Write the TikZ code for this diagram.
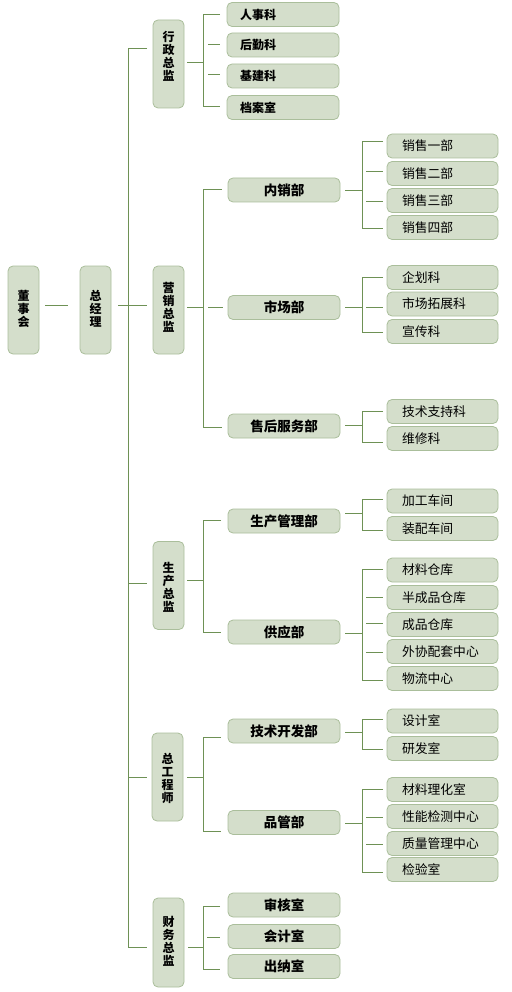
\documentclass[tikz,border=0pt]{standalone}
\usepackage{fontspec}
\setmainfont{Noto Sans CJK SC}
\definecolor{boxfill}{RGB}{212,222,203}
\definecolor{boxline}{RGB}{170,190,155}
\definecolor{conn}{RGB}{110,145,85}
\tikzset{
  box/.style={draw=boxline, fill=boxfill, rounded corners=5pt, line width=0.8pt, inner sep=0pt},
  vbox/.style={box, minimum width=31pt, minimum height=88pt},
  vtext/.style={inner sep=0pt, align=center, font=\bfseries\fontsize{12}{13}\selectfont},
  midbox/.style={box, minimum width=112pt, minimum height=24pt, font=\bfseries\fontsize{13.5}{14}\selectfont},
  xzleaf/.style={box, minimum height=24pt, text width=86pt, inner xsep=13pt, align=left, font=\bfseries\fontsize{12}{13}\selectfont},
  leaf/.style={box, minimum height=24pt, text width=81pt, inner xsep=15pt, align=left, font=\fontsize{12.8}{13}\selectfont},
  ln/.style={draw=conn, line width=1pt}
}
\begin{document}
\begin{tikzpicture}[x=1pt,y=-1pt]
\useasboundingbox (0,0) rectangle (511,992);
% left column
\node[vbox] (dsh) at (23.5,310) {};
\node[vtext] (dsht) at (23.5,309) {董\\事\\会};
\node[vbox] (zjl) at (95.5,310) {};
\node[vtext] (zjlt) at (95.5,309) {总\\经\\理};
% level 1
\node[vbox] (xz) at (168.5,64) {};
\node[vtext] (xzt) at (168.5,56) {行\\政\\总\\监};
\node[vbox] (yx) at (168.5,310) {};
\node[vtext] (yxt) at (168.5,307.5) {营\\销\\总\\监};
\node[vbox] (sc) at (168.5,585.5) {};
\node[vtext] (sct) at (168.5,587.5) {生\\产\\总\\监};
\node[vbox] (zg) at (167.5,777) {};
\node[vtext] (zgt) at (167.5,778.5) {总\\工\\程\\师};
\node[vbox, minimum height=89pt] (cw) at (168.5,942.5) {};
\node[vtext] (cwt) at (168.5,941) {财\\务\\总\\监};
% 行政 leaves
\node[xzleaf] (rsk) at (283,14.5) {人事科};
\node[xzleaf] (hqk) at (283,45) {后勤科};
\node[xzleaf] (jjk) at (283,76) {基建科};
\node[xzleaf] (das) at (283,107.5) {档案室};
% level 2
\node[midbox] (nxb) at (284,190) {内销部};
\node[midbox] (scb) at (284,307.5) {市场部};
\node[midbox] (shb) at (284,426) {售后服务部};
\node[midbox] (scgl) at (284,521) {生产管理部};
\node[midbox] (gyb) at (284,632) {供应部};
\node[midbox] (jskf) at (284,731) {技术开发部};
\node[midbox] (pgb) at (284,822.5) {品管部};
\node[midbox] (shs) at (284,905) {审核室};
\node[midbox] (kjs) at (284,936.5) {会计室};
\node[midbox] (cns) at (284,966.5) {出纳室};
% leaves
\node[leaf] (xs1) at (442.5,146) {销售一部};
\node[leaf] (xs2) at (442.5,173.5) {销售二部};
\node[leaf] (xs3) at (442.5,200.5) {销售三部};
\node[leaf] (xs4) at (442.5,227.5) {销售四部};
\node[leaf] (qhk) at (442.5,277.5) {企划科};
\node[leaf] (sctzk) at (442.5,304) {市场拓展科};
\node[leaf] (xck) at (442.5,331.5) {宣传科};
\node[leaf] (jszc) at (442.5,411.5) {技术支持科};
\node[leaf] (wxk) at (442.5,438.5) {维修科};
\node[leaf] (jgcj) at (442.5,501) {加工车间};
\node[leaf] (zpcj) at (442.5,528.5) {装配车间};
\node[leaf] (clck) at (442.5,570) {材料仓库};
\node[leaf] (bcp) at (442.5,597.5) {半成品仓库};
\node[leaf] (cpck) at (442.5,624.5) {成品仓库};
\node[leaf] (wxpt) at (442.5,651.5) {外协配套中心};
\node[leaf] (wlzx) at (442.5,678.5) {物流中心};
\node[leaf] (sjs) at (442.5,721) {设计室};
\node[leaf] (yfs) at (442.5,748.5) {研发室};
\node[leaf] (cllh) at (442.5,789.5) {材料理化室};
\node[leaf] (xnjc) at (442.5,816.5) {性能检测中心};
\node[leaf] (zlgl) at (442.5,843.5) {质量管理中心};
\node[leaf] (jys) at (442.5,869.5) {检验室};
% connectors: main
\draw[ln] (45,305) -- (68,305);
\draw[ln] (118,305) -- (147,305);
\draw[ln] (147,49) -- (128,49) -- (128,947) -- (147,947);
\draw[ln] (128,583) -- (147,583);
\draw[ln] (128,777) -- (147,777);
% 行政
\draw[ln] (187,63) -- (203,63);
\draw[ln] (220,15) -- (203,15) -- (203,107) -- (220,107);
\draw[ln] (208,45) -- (220,45);
\draw[ln] (208,75) -- (220,75);
% 营销
\draw[ln] (187,307) -- (203,307);
\draw[ln] (222,190) -- (203,190) -- (203,427) -- (222,427);
\draw[ln] (208,307) -- (223,307);
% 生产
\draw[ln] (187,580) -- (203,580);
\draw[ln] (221,520) -- (203,520) -- (203,632) -- (221,632);
% 总工程师
\draw[ln] (187,777) -- (203,777);
\draw[ln] (221,737) -- (203,737) -- (203,831) -- (221,831);
% 财务
\draw[ln] (188,947) -- (203,947);
\draw[ln] (220,906) -- (203,906) -- (203,969) -- (220,969);
\draw[ln] (207,937) -- (220,937);
% level 2 right
\draw[ln] (345,191) -- (362,191);
\draw[ln] (383,142) -- (362,142) -- (362,229) -- (383,229);
\draw[ln] (366,172) -- (383,172);
\draw[ln] (366,202) -- (383,202);
\draw[ln] (345,307) -- (362,307);
\draw[ln] (383,277) -- (362,277) -- (362,332) -- (383,332);
\draw[ln] (366,307) -- (383,307);
\draw[ln] (345,425) -- (362,425);
\draw[ln] (383,411) -- (362,411) -- (362,442) -- (383,442);
\draw[ln] (345,513) -- (362,513);
\draw[ln] (383,499) -- (362,499) -- (362,530) -- (383,530);
\draw[ln] (345,633) -- (362,633);
\draw[ln] (383,569) -- (362,569) -- (362,680) -- (383,680);
\draw[ln] (366,597) -- (383,597);
\draw[ln] (366,623) -- (383,623);
\draw[ln] (366,652) -- (383,652);
\draw[ln] (345,732) -- (362,732);
\draw[ln] (383,719) -- (362,719) -- (362,749) -- (383,749);
\draw[ln] (345,823) -- (362,823);
\draw[ln] (383,789) -- (362,789) -- (362,872) -- (383,872);
\draw[ln] (366,817) -- (383,817);
\draw[ln] (366,844) -- (383,844);
\end{tikzpicture}
\end{document}
